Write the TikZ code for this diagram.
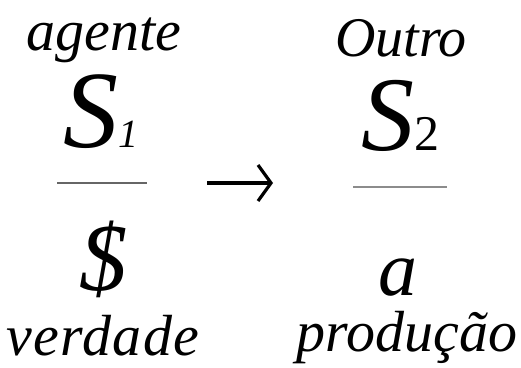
\documentclass[tikz,border=0pt]{standalone}
\usepackage{fontspec}
\setmainfont{Liberation Serif}
\usetikzlibrary{arrows.meta}
\tikzset{
  lbl/.style={inner sep=0pt, anchor=base},
  word/.style={lbl, font=\fontsize{58}{60}\selectfont\itshape},
  bar/.style={line width=2pt},
}
\begin{document}
\begin{tikzpicture}[x=1pt,y=-1pt]
\useasboundingbox (0,0) rectangle (521,367);
% left column
\node[word] (agente) at (104,50) {agente};
\node[lbl, anchor=base west] (s1) at (63,147) {\fontsize{110}{112}\selectfont\itshape S\fontsize{40}{42}\selectfont 1};
\coordinate (l1a) at (57,183);
\coordinate (l1b) at (147,183);
\draw[bar, black!60] (l1a) -- (l1b);
\node[lbl, font=\fontsize{96}{98}\selectfont\itshape] (dollar) at (103,290) {\$};
\node[word, font=\fontsize{58}{60}\selectfont\itshape\addfontfeature{LetterSpace=2.5}] (verdade) at (103,355) {verdade};
% arrow
\coordinate (ar1) at (207,183);
\coordinate (ar2) at (273,183);
\draw[line width=3.2pt, -{Straight Barb[length=13pt,width=36pt,line width=3.2pt]}] (ar1) -- (ar2);
% right column
\node[word, font=\fontsize{56}{58}\selectfont\itshape] (outro) at (401,56) {Outro};
\node[lbl, anchor=base west] (s2) at (361,150) {\fontsize{106}{110}\selectfont\itshape S\fontsize{50}{52}\selectfont\upshape 2};
\coordinate (l2a) at (353,187);
\coordinate (l2b) at (447,187);
\draw[bar, black!45] (l2a) -- (l2b);
\node[lbl, font=\fontsize{78}{80}\selectfont\itshape, text depth=0pt] (a) at (398,295) {a};
\node[word] (producao) at (407,351) {produção};
\end{tikzpicture}
\end{document}
